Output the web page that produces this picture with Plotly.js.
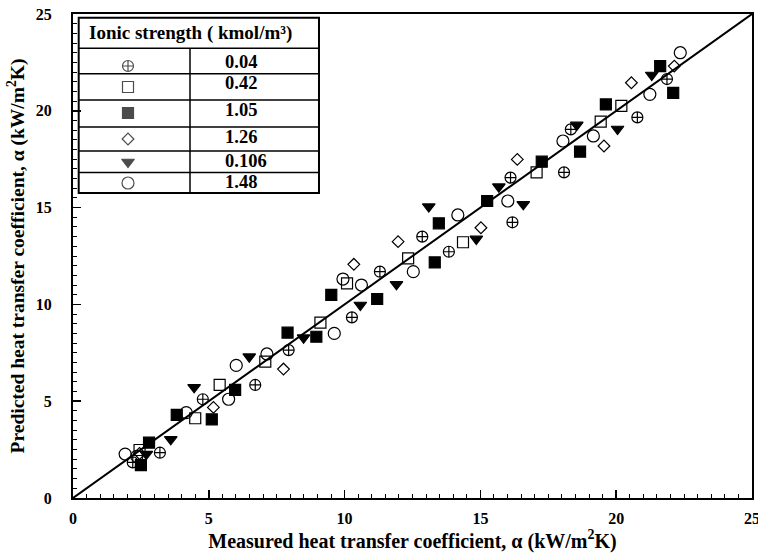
<!DOCTYPE html>
<html>
<head>
<meta charset="utf-8">
<script src="https://cdn.plot.ly/plotly-3.0.1.min.js"></script>
<style>html,body{margin:0;padding:0;background:#fff;}</style>
</head>
<body>
<div id="chart" style="width:758px;height:554px;"></div>
<script>
// Ionic strength series (kmol/m3): measured (x) vs predicted (y), kW/m2K
const x004 = [2.2, 3.2, 4.78, 6.71, 7.94, 10.27, 11.3, 12.86, 13.84, 16.11, 16.18, 18.08, 18.33, 20.78, 21.87];
const y004 = [1.84, 2.34, 5.1, 5.84, 7.64, 9.33, 11.69, 13.5, 12.72, 16.55, 14.24, 16.82, 19.04, 19.66, 21.64];

const x042 = [2.45, 4.5, 5.4, 7.08, 9.11, 10.09, 12.34, 14.36, 17.07, 19.43, 20.19];
const y042 = [2.48, 4.12, 5.84, 7.04, 9.06, 11.09, 12.38, 13.21, 16.82, 19.44, 20.25];

const x105 = [2.5, 2.8, 3.82, 5.11, 5.97, 7.9, 8.96, 9.51, 11.2, 13.32, 13.47, 15.25, 17.26, 18.67, 19.62, 21.62, 22.1];
const y105 = [1.7, 2.86, 4.29, 4.06, 5.58, 8.54, 8.33, 10.49, 10.28, 12.17, 14.19, 15.34, 17.37, 17.89, 20.33, 22.31, 20.93];

const x126 = [2.45, 5.17, 7.75, 10.34, 11.97, 15.02, 16.36, 19.55, 20.56, 22.14];
const y126 = [2.3, 4.68, 6.66, 12.07, 13.24, 13.96, 17.49, 18.18, 21.45, 22.31];

const x0106 = [2.7, 3.6, 4.46, 6.49, 8.49, 10.58, 11.91, 13.1, 14.85, 15.68, 16.58, 18.55, 20.05, 21.31];
const y0106 = [2.27, 3.03, 5.72, 7.3, 8.28, 9.97, 11.04, 15.05, 13.38, 16.08, 15.17, 19.27, 19.06, 21.85];

const x148 = [1.92, 2.35, 4.17, 5.73, 6.01, 7.14, 9.62, 9.94, 10.62, 12.53, 14.17, 16.01, 18.04, 19.16, 21.24, 22.36];
const y148 = [2.27, 2.15, 4.41, 5.1, 6.85, 7.44, 8.5, 11.31, 11.0, 11.69, 14.62, 15.34, 18.44, 18.7, 20.85, 23.0];

const parityX = [0, 25];
const parityY = [0, 25];

const seriesLabels = ['0.04', '0.42', '1.05', '1.26', '0.106', '1.48'];
const legendTitle = 'Ionic strength ( kmol/m³)';
const xTitle = 'Measured heat transfer coefficient, α (kW/m<sup>2</sup>K)';
const yTitle = 'Predicted heat transfer coefficient, α (kW/m<sup>2</sup>K)';

// ---- styling / layout ----
const W = 758, H = 554;
const L = 73, R = 752, T = 14, B = 498;
const xmin = 0, xmax = 25, ymin = 0, ymax = 25;
function px2x(p) { return xmin + (p - L) / (R - L) * (xmax - xmin); }
function py2y(p) { return ymin + (B - p) / (B - T) * (ymax - ymin); }

const symbols = ['circle-cross-open', 'square-open', 'square', 'diamond-open', 'triangle-down', 'circle-open'];
const sizes = [11, 11, 11, 9, 11, 12];
const xs = [x004, x042, x105, x126, x0106, x148];
const ys = [y004, y042, y105, y126, y0106, y148];

const traces = [];
traces.push({
  x: parityX, y: parityY, mode: 'lines', type: 'scatter',
  line: {color: '#000', width: 2}, hoverinfo: 'skip', showlegend: false
});
for (let i = 0; i < 6; i++) {
  traces.push({
    x: xs[i], y: ys[i], mode: 'markers', type: 'scatter', name: seriesLabels[i],
    marker: {symbol: symbols[i], size: sizes[i], color: '#000', line: {color: '#000', width: 1.2}},
    showlegend: false
  });
}

// legend table (pixel geometry)
const tblL = 78.7, tblR = 319, tblT = 17.7, tblB = 193, tblDiv = 190;
const rowLines = [48.3, 73.8, 100, 127, 151, 172.5];
const symCenters = [66, 87, 113, 139, 162, 183];
const textCenters = [62, 83, 110, 137, 161, 182];
const symX = 128, textX = 223;

traces.push({
  x: symCenters.map(() => px2x(symX)), y: symCenters.map(p => py2y(p)),
  mode: 'markers', type: 'scatter', hoverinfo: 'skip', showlegend: false,
  marker: {symbol: symbols, size: sizes, color: '#000', line: {color: '#000', width: 1.2}}
});

const shapes = [];
shapes.push({type: 'rect', xref: 'x', yref: 'y', x0: px2x(tblL), x1: px2x(tblR), y0: py2y(tblT), y1: py2y(tblB),
  line: {color: '#000', width: 2}, fillcolor: '#fff', layer: 'below'});
rowLines.forEach(p => shapes.push({type: 'line', xref: 'x', yref: 'y', x0: px2x(tblL), x1: px2x(tblR), y0: py2y(p), y1: py2y(p),
  line: {color: '#000', width: 1.5}}));
shapes.push({type: 'line', xref: 'x', yref: 'y', x0: px2x(tblDiv), x1: px2x(tblDiv), y0: py2y(rowLines[0]), y1: py2y(tblB),
  line: {color: '#000', width: 1.5}});

const font = 'Liberation Serif, Times New Roman, serif';
const annotations = [];
annotations.push({xref: 'x', yref: 'y', x: px2x(tblL + 8), y: py2y(33), text: legendTitle, showarrow: false,
  xanchor: 'left', yanchor: 'middle', font: {family: font, size: 19, color: '#000', weight: 'bold'}});
seriesLabels.forEach((s, i) => annotations.push({xref: 'x', yref: 'y', x: px2x(textX), y: py2y(textCenters[i]), text: s,
  showarrow: false, xanchor: 'left', yanchor: 'middle', font: {family: font, size: 18.5, color: '#000', weight: 'bold'}}));

const axisCommon = {
  range: [0, 25], tick0: 0, dtick: 5, ticks: 'inside', ticklen: 8, tickwidth: 1.5, tickcolor: '#000',
  minor: {dtick: 0.5, ticks: 'inside', ticklen: 4, tickwidth: 1, tickcolor: '#000'},
  showline: true, linewidth: 2, linecolor: '#000', mirror: true, showgrid: false, zeroline: false,
  ticklabeloverflow: 'allow',
  tickfont: {family: font, size: 16, color: '#000', weight: 'bold'}, fixedrange: true
};

const layout = {
  width: W, height: H,
  margin: {l: L, r: W - R, t: T, b: H - B, pad: 0},
  paper_bgcolor: '#fff', plot_bgcolor: '#fff',
  showlegend: false,
  xaxis: Object.assign({}, axisCommon, {
    range: [0, 25.001],
    ticklabelstandoff: 5,
    title: {text: xTitle, font: {family: font, size: 20, color: '#000', weight: 'bold'}, standoff: 4}
  }),
  yaxis: Object.assign({}, axisCommon, {
    ticklabelstandoff: 16,
    title: {text: yTitle, font: {family: font, size: 19.5, color: '#000', weight: 'bold'}, standoff: 6}
  }),
  shapes: shapes,
  annotations: annotations
};

Plotly.newPlot('chart', traces, layout, {displayModeBar: false, staticPlot: true});
</script>
</body>
</html>
